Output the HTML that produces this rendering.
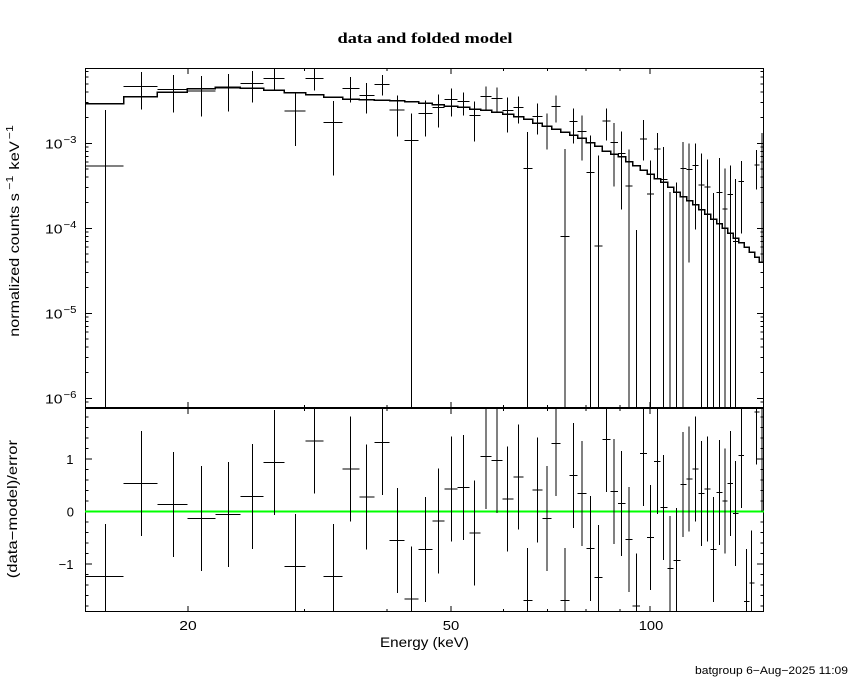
<!DOCTYPE html>
<html>
<head>
<meta charset="utf-8">
<style>
html,body{margin:0;padding:0;background:#fff;}
svg{display:block;}
</style>
</head>
<body>
<svg width="850" height="680" viewBox="0 0 850 680" xmlns="http://www.w3.org/2000/svg">
<defs>
<clipPath id="ct"><rect x="85" y="68" width="679" height="340"/></clipPath>
<clipPath id="cb"><rect x="85" y="408" width="679" height="204"/></clipPath>
</defs>
<rect width="850" height="680" fill="#fff"/>

<text x="425" y="43" text-anchor="middle" font-family="'Liberation Serif', serif" font-size="15" font-weight="bold" fill="#000" textLength="175" lengthAdjust="spacingAndGlyphs">data and folded model</text>

<g fill="none" stroke="#000" stroke-width="1" shape-rendering="crispEdges">
<rect x="85.5" y="68.5" width="678" height="339"/>
<rect x="85.5" y="408.5" width="678" height="203"/>
</g>

<g fill="none" stroke="#000" stroke-width="1" shape-rendering="crispEdges">
<path d="M85,143.3h7 M85,228.3h7 M85,313.3h7 M85,398.3h7
M85,117.7h3.5 M85,102.7h3.5 M85,92.1h3.5 M85,83.9h3.5 M85,77.2h3.5 M85,71.5h3.5
M85,202.7h3.5 M85,187.7h3.5 M85,177.1h3.5 M85,168.9h3.5 M85,162.2h3.5 M85,156.5h3.5 M85,151.5h3.5 M85,147.2h3.5
M85,287.7h3.5 M85,272.7h3.5 M85,262.1h3.5 M85,253.9h3.5 M85,247.2h3.5 M85,241.5h3.5 M85,236.5h3.5 M85,232.2h3.5
M85,372.7h3.5 M85,357.7h3.5 M85,347.1h3.5 M85,338.9h3.5 M85,332.2h3.5 M85,326.5h3.5 M85,321.5h3.5 M85,317.2h3.5
M85,402.2h3.5"/>
<path d="M764,143.3h-7 M764,228.3h-7 M764,313.3h-7 M764,398.3h-7
M764,117.7h-3.5 M764,102.7h-3.5 M764,92.1h-3.5 M764,83.9h-3.5 M764,77.2h-3.5 M764,71.5h-3.5
M764,202.7h-3.5 M764,187.7h-3.5 M764,177.1h-3.5 M764,168.9h-3.5 M764,162.2h-3.5 M764,156.5h-3.5 M764,151.5h-3.5 M764,147.2h-3.5
M764,287.7h-3.5 M764,272.7h-3.5 M764,262.1h-3.5 M764,253.9h-3.5 M764,247.2h-3.5 M764,241.5h-3.5 M764,236.5h-3.5 M764,232.2h-3.5
M764,372.7h-3.5 M764,357.7h-3.5 M764,347.1h-3.5 M764,338.9h-3.5 M764,332.2h-3.5 M764,326.5h-3.5 M764,321.5h-3.5 M764,317.2h-3.5
M764,402.2h-3.5"/>
<path d="M188,68v6 M451,68v6 M650,68v6 M304.4,68v3 M387,68v3 M503.4,68v3 M547.6,68v3 M586,68v3 M619.8,68v3"/>
<path d="M188,408v-6 M451,408v-6 M650,408v-6 M304.4,408v-3 M387,408v-3 M503.4,408v-3 M547.6,408v-3 M586,408v-3 M619.8,408v-3"/>
<path d="M188,408v6 M451,408v6 M650,408v6 M304.4,408v3 M387,408v3 M503.4,408v3 M547.6,408v3 M586,408v3 M619.8,408v3"/>
<path d="M188,612v-6 M451,612v-6 M650,612v-6 M304.4,612v-3 M387,612v-3 M503.4,612v-3 M547.6,612v-3 M586,612v-3 M619.8,612v-3"/>
<path d="M85,564.2h7 M85,511.7h7 M85,459.2h7
M85,606.2h3.5 M85,595.7h3.5 M85,585.2h3.5 M85,574.7h3.5 M85,553.7h3.5 M85,543.2h3.5 M85,532.7h3.5 M85,522.2h3.5
M85,501.2h3.5 M85,490.7h3.5 M85,480.2h3.5 M85,469.7h3.5 M85,448.7h3.5 M85,438.2h3.5 M85,427.7h3.5 M85,417.2h3.5"/>
<path d="M764,564.2h-7 M764,511.7h-7 M764,459.2h-7
M764,606.2h-3.5 M764,595.7h-3.5 M764,585.2h-3.5 M764,574.7h-3.5 M764,553.7h-3.5 M764,543.2h-3.5 M764,532.7h-3.5 M764,522.2h-3.5
M764,501.2h-3.5 M764,490.7h-3.5 M764,480.2h-3.5 M764,469.7h-3.5 M764,448.7h-3.5 M764,438.2h-3.5 M764,427.7h-3.5 M764,417.2h-3.5"/>
</g>

<g clip-path="url(#ct)" fill="none" stroke="#000" shape-rendering="crispEdges">
<path stroke-width="1.5" d="M85,103.7 H123.5 V96.7 H157.3 V92.3 H187.3 V88.7 H215.3 V87.3 H240.3 V88 H263.5 V90.3 H284.3 V92.7 H305.7 V94.7 H323.7 V97.3 H342.7 V99 H359.3 V99.7 H374.3 V100 H389.7 V100.7 H404.7 V101.7 H418.5 V103.3 H432.3 V104.7 H444.3 V106 H457.7 V107.3 H469.7 V109 H480.7 V110.3 H491.7 V112 H502.7 V114.3 H513.7 V116.7 H523.7 V119 H532.7 V123 H542.3 V126 H551.7 V129.3 H560.7 V132 H569.5 V135.3 H577.7 V138.3 H586.3 V142.7 H594.7 V146.3 H602.3 V151 H610.5 V154 H618 V156.7 H625.5 V161.7 H632.7 V165.7 H640 V170 H647 V174 H654 V178.7 H660.7 V182.3 H667.5 V187.3 H673.7 V192 H680.3 V196.7 H686.5 V200.7 H692.5 V204.7 H698.5 V209.5 H704.5 V214 H710.5 V219 H716.5 V223.7 H722.3 V228.3 H727.7 V233.3 H733 V238 H738.5 V242.7 H744 V247.3 H749.3 V252.3 H754.5 V257 H759.3 V262.3 H764"/>
<path stroke-width="1" d="
M85,166H123.5 M105.7,110V410
M123.5,86.3H157.3 M141.7,72V109.7
M157.3,89.7H187.3 M173.3,75V112.7
M187.3,91H215.3 M201.3,76V116.7
M215.3,88H240.3 M228.3,74V111.7
M240.3,83.3H263.5 M252.3,71V102.7
M263.5,78.3H284.3 M274.3,66V90.3
M284.3,111H305.7 M295.3,93.3V146
M305.7,78.3H323.7 M314.3,66V90.7
M323.7,122.3H342.7 M333.3,101V175.3
M342.7,88.3H359.3 M350.3,77V102.7
M359.3,95.3H374.3 M366.3,83V113.7
M374.3,84.7H389.7 M382.3,75V95.3
M389.7,110H404.7 M397.3,95.3V136.7
M404.7,140.3H418.5 M411.3,113.3V410
M418.5,113.3H432.3 M425.3,100.3V136.7
M432.3,107.3H444.3 M438.3,94.3V127.7
M444.3,99.3H457.7 M451.3,88.3V116.7
M457.7,101.3H469.7 M463.5,92.3V115.7
M469.7,115.3H480.7 M474.7,101.3V141.7
M480.7,96.3H491.7 M486.2,86.3V109.7
M491.7,98.3H502.7 M497.2,87.3V111.7
M502.7,110.3H513.7 M507.5,97.3V132.7
M513.7,107.3H523.7 M518.3,96.3V123.7
M523.7,168.3H532.7 M527.7,132V410
M532.7,116.3H542.3 M537.5,103.3V134.7
M542.3,126.7H551.7 M547.2,113.3V149.7
M551.7,106.3H560.7 M556.2,95.3V122.7
M560.7,236.3H569.5 M565.2,149V410
M569.5,121.3H577.7 M573.3,108.3V143.7
M577.7,131.3H586.3 M582.2,115.3V160.7
M586.3,172.3H594.7 M590.5,135.3V410
M594.7,246H602.3 M598.3,155.3V410
M602.3,121H610.5 M606.3,108.3V140.7
M610.5,142.3H618 M614.2,123V186.3
M618,153.3H625.5 M621.5,131.3V209.7
M625.5,186H632.7 M629.2,149.3V410
M636.5,230V410
M640,139H647 M643.3,120V160.3
M647,194H654 M650.3,160.3V410
M654,149H660.7 M657.3,133V178.7
M660.7,179.3H667.5 M663.7,147V410
M670.2,192V410
M676.5,182.7V410
M680.3,168.3H686.5 M683.2,142V410
M686.5,169.7H692.5 M689.2,143.3V262.7
M692.5,165.3H698.5 M695.3,143.3V229.7
M698.5,185H704.5 M701.5,153.3V410
M704.5,187H710.5 M707.5,159.3V410
M713.5,193V410
M716.5,192.3H722.3 M719.5,158V410
M722.3,209H727.7 M725,168.3V410
M727.7,194.7H733 M730.5,165.3V410
M733,241.7H738.5 M735.7,179V410
M738.5,181.3H744 M741.3,161V233.7
M754.5,165H759.3 M756.7,150V189.7
M759.3,143.7H764 M762.2,133V262.3"/>
</g>

<g clip-path="url(#cb)" fill="none" shape-rendering="crispEdges">
<line x1="85" y1="511.7" x2="764" y2="511.7" stroke="#00ff00" stroke-width="2"/>
<path stroke="#000" stroke-width="1" d="
M85,576.3H123.5 M105.7,523.8V628.8
M123.5,483.3H157.3 M141.7,430.8V535.8
M157.3,504.35H187.3 M173.3,451.85V556.85
M187.3,518.5H215.3 M201.3,466V571
M215.3,514.3H240.3 M228.3,461.8V566.8
M240.3,496.5H263.5 M252.3,444V549
M263.5,462.35H284.3 M274.3,409.85V514.85
M284.3,566.3H305.7 M295.3,513.8V618.8
M305.7,440.8H323.7 M314.3,388.3V493.3
M323.7,576.3H342.7 M333.3,523.8V628.8
M342.7,469.2H359.3 M350.3,416.7V521.7
M359.3,497H374.3 M366.3,444.5V549.5
M374.3,442.4H389.7 M382.3,389.9V494.9
M389.7,540.6H404.7 M397.3,488.1V593.1
M404.7,598.85H418.5 M411.3,546.35V651.35
M418.5,549.5H432.3 M425.3,497V602
M432.3,521.15H444.3 M438.3,468.65V573.65
M444.3,489.1H457.7 M451.3,436.6V541.6
M457.7,487.55H469.7 M463.5,435.05V540.05
M469.7,533.2H480.7 M474.7,480.7V585.7
M480.7,456.6H491.7 M486.2,404.1V509.1
M491.7,460.25H502.7 M497.2,407.75V512.75
M502.7,499.1H513.7 M507.5,446.6V551.6
M513.7,477.05H523.7 M518.3,424.55V529.55
M523.7,600.4H532.7 M527.7,547.9V652.9
M532.7,490.2H542.3 M537.5,437.7V542.7
M542.3,518.5H551.7 M547.2,466V571
M551.7,443.45H560.7 M556.2,390.95V495.95
M560.7,600.4H569.5 M565.2,547.9V652.9
M569.5,475.5H577.7 M573.3,423V528
M577.7,493.35H586.3 M582.2,440.85V545.85
M586.3,548.45H594.7 M590.5,495.95V600.95
M594.7,577.35H602.3 M598.3,524.85V629.85
M602.3,439.25H610.5 M606.3,386.75V491.75
M610.5,491.25H618 M614.2,438.75V543.75
M618,503.3H625.5 M621.5,450.8V555.8
M625.5,539.5H632.7 M629.2,487V592
M632.7,606.2H640 M636.5,553.7V658.7
M640,453.4H647 M643.3,400.9V505.9
M647,537.4H654 M650.3,484.9V589.9
M654,461.3H660.7 M657.3,408.8V513.8
M660.7,507.5H667.5 M663.7,455V560
M667.5,568.4H673.7 M670.2,515.9V620.9
M673.7,560.5H680.3 M676.5,508V613
M680.3,484.4H686.5 M683.2,431.9V536.9
M686.5,479.15H692.5 M689.2,426.65V531.65
M692.5,469.2H698.5 M695.3,416.7V521.7
M698.5,493.35H704.5 M701.5,440.85V545.85
M704.5,489.1H710.5 M707.5,436.6V541.6
M710.5,549.5H716.5 M713.5,497V602
M716.5,492.3H722.3 M719.5,439.8V544.8
M722.3,501.2H727.7 M725,448.7V553.7
M727.7,483.3H733 M730.5,430.8V535.8
M733,513.3H738.5 M735.7,460.8V565.8
M738.5,455.55H744 M741.3,403.05V508.05
M744,601.5H749.3 M746.7,549V654
M749.3,583.1H754.5 M751.7,530.6V635.6
M754.5,412H759.3 M756.7,359.5V464.5
M759.3,459.2H764 M762.2,406.7V511.7"/>
</g>

<g font-family="'Liberation Sans', sans-serif" font-size="13" fill="#000">
<text x="45" y="148.5" textLength="17.5" lengthAdjust="spacingAndGlyphs">10</text>
<text x="63.5" y="142.8" font-size="10" textLength="13" lengthAdjust="spacingAndGlyphs">−3</text>
<text x="45" y="233.5" textLength="17.5" lengthAdjust="spacingAndGlyphs">10</text>
<text x="63.5" y="227.8" font-size="10" textLength="13" lengthAdjust="spacingAndGlyphs">−4</text>
<text x="45" y="318.5" textLength="17.5" lengthAdjust="spacingAndGlyphs">10</text>
<text x="63.5" y="312.8" font-size="10" textLength="13" lengthAdjust="spacingAndGlyphs">−5</text>
<text x="45" y="403.5" textLength="17.5" lengthAdjust="spacingAndGlyphs">10</text>
<text x="63.5" y="397.8" font-size="10" textLength="13" lengthAdjust="spacingAndGlyphs">−6</text>
</g>

<g font-family="'Liberation Sans', sans-serif" font-size="13" fill="#000" text-anchor="end">
<text x="73.5" y="464.2">1</text>
<text x="74" y="516.5">0</text>
<text x="73.5" y="569">−1</text>
</g>

<g font-family="'Liberation Sans', sans-serif" font-size="13" fill="#000" text-anchor="middle">
<text x="188" y="630" textLength="17.4" lengthAdjust="spacingAndGlyphs">20</text>
<text x="451" y="630" textLength="16.5" lengthAdjust="spacingAndGlyphs">50</text>
<text x="651" y="630" textLength="24.5" lengthAdjust="spacingAndGlyphs">100</text>
</g>

<text x="380" y="647" font-family="'Liberation Sans', sans-serif" font-size="14" fill="#000" textLength="89" lengthAdjust="spacingAndGlyphs">Energy (keV)</text>

<g transform="translate(19,336.7) rotate(-90)" font-family="'Liberation Sans', sans-serif" font-size="14" fill="#000">
<text x="0" y="0" textLength="143.5" lengthAdjust="spacingAndGlyphs">normalized counts s</text>
<text x="147" y="-6" font-size="10" textLength="14" lengthAdjust="spacingAndGlyphs">−1</text>
<text x="167" y="0" textLength="28.5" lengthAdjust="spacingAndGlyphs">keV</text>
<text x="197.5" y="-6" font-size="10" textLength="14" lengthAdjust="spacingAndGlyphs">−1</text>
</g>

<g transform="translate(17,578.3) rotate(-90)" font-family="'Liberation Sans', sans-serif" font-size="14" fill="#000">
<text x="0" y="0" textLength="138.3" lengthAdjust="spacingAndGlyphs">(data−model)/error</text>
</g>

<text x="695" y="674" font-family="'Liberation Sans', sans-serif" font-size="11" fill="#000" textLength="153" lengthAdjust="spacingAndGlyphs">batgroup  6−Aug−2025 11:09</text>
</svg>
</body>
</html>
